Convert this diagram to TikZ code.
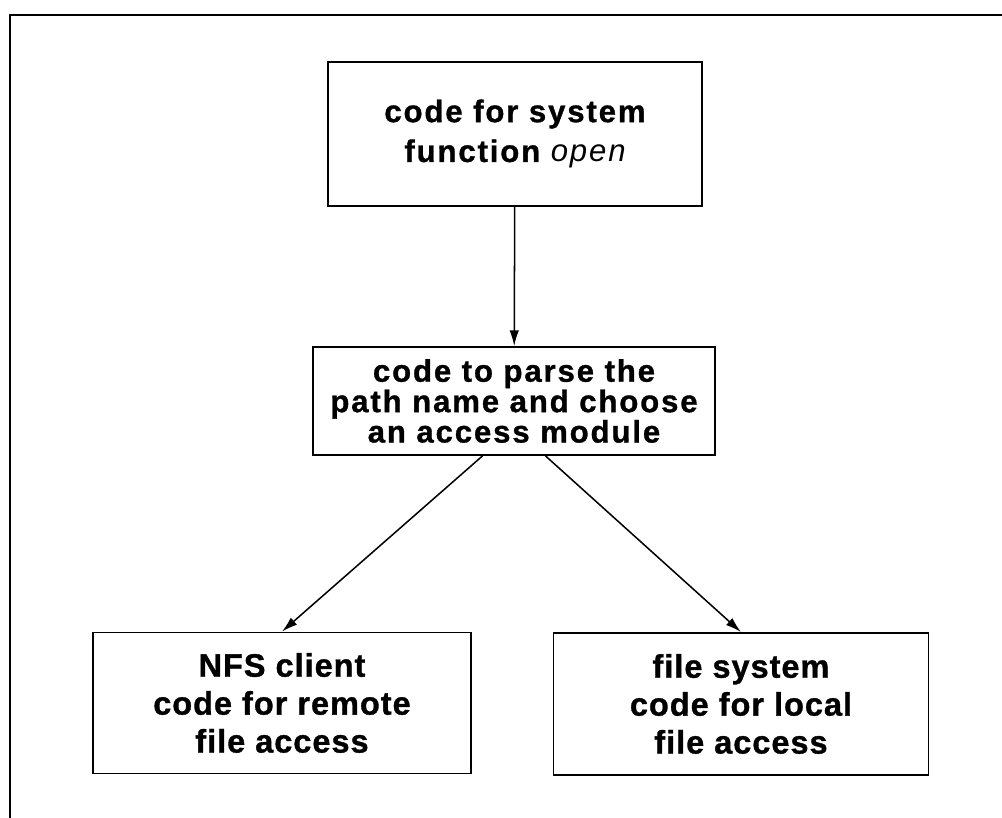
\documentclass[tikz,border=0pt]{standalone}
\usepackage{fontspec}
\usepackage{tikz}
\usetikzlibrary{positioning, arrows.meta}
\newfontfamily\boxfont{Liberation Sans}[LetterSpace=6, BoldFeatures={FakeBold=1}]
\newfontfamily\lowfont{Liberation Sans}[LetterSpace=3, BoldFeatures={FakeBold=1}]

\begin{document}
\begin{tikzpicture}[x=0.254mm, y=-0.254mm,
    box/.style={draw, line width=1.3pt, align=center, inner sep=0pt},
    call/.style={line width=1.1pt, -{Latex[length=4mm, width=2.4mm]}}]
  \useasboundingbox (0,0) rectangle (1002,818);

  % Frame
  \draw[line width=1.8pt] (1002,15) -- (10,15) -- (10,818);

  % System call
  \node[box, minimum width=374*0.254mm, minimum height=144*0.254mm,
        font=\boxfont\bfseries\fontsize{22.5}{28.8}\selectfont] (sysopen) at (515,134)
    {code for system\\function {\mdseries\itshape open}};

  % Path name parsing
  \node[box, minimum width=402*0.254mm, minimum height=108*0.254mm,
        font=\boxfont\bfseries\fontsize{22.5}{20.9}\selectfont] (parse) at (514,401)
    {code to parse the\\path name and choose\\an access module};

  % Access modules
  \node[box, minimum width=378*0.254mm, minimum height=141*0.254mm,
        font=\lowfont\bfseries\fontsize{23.5}{27.4}\selectfont] (nfsclient) at (282,703)
    {NFS client\\code for remote\\file access};
  \node[box, minimum width=375*0.254mm, minimum height=142*0.254mm,
        font=\lowfont\bfseries\fontsize{23.5}{27.4}\selectfont] (localfs) at (741,704)
    {file system\\code for local\\file access};

  % Calls
  \draw[call] (sysopen) -- (parse);
  \draw[call] ([xshift=-8mm]parse.south) -- (nfsclient.north);
  \draw[call] ([xshift=8mm]parse.south) -- (localfs.north);
\end{tikzpicture}
\end{document}
